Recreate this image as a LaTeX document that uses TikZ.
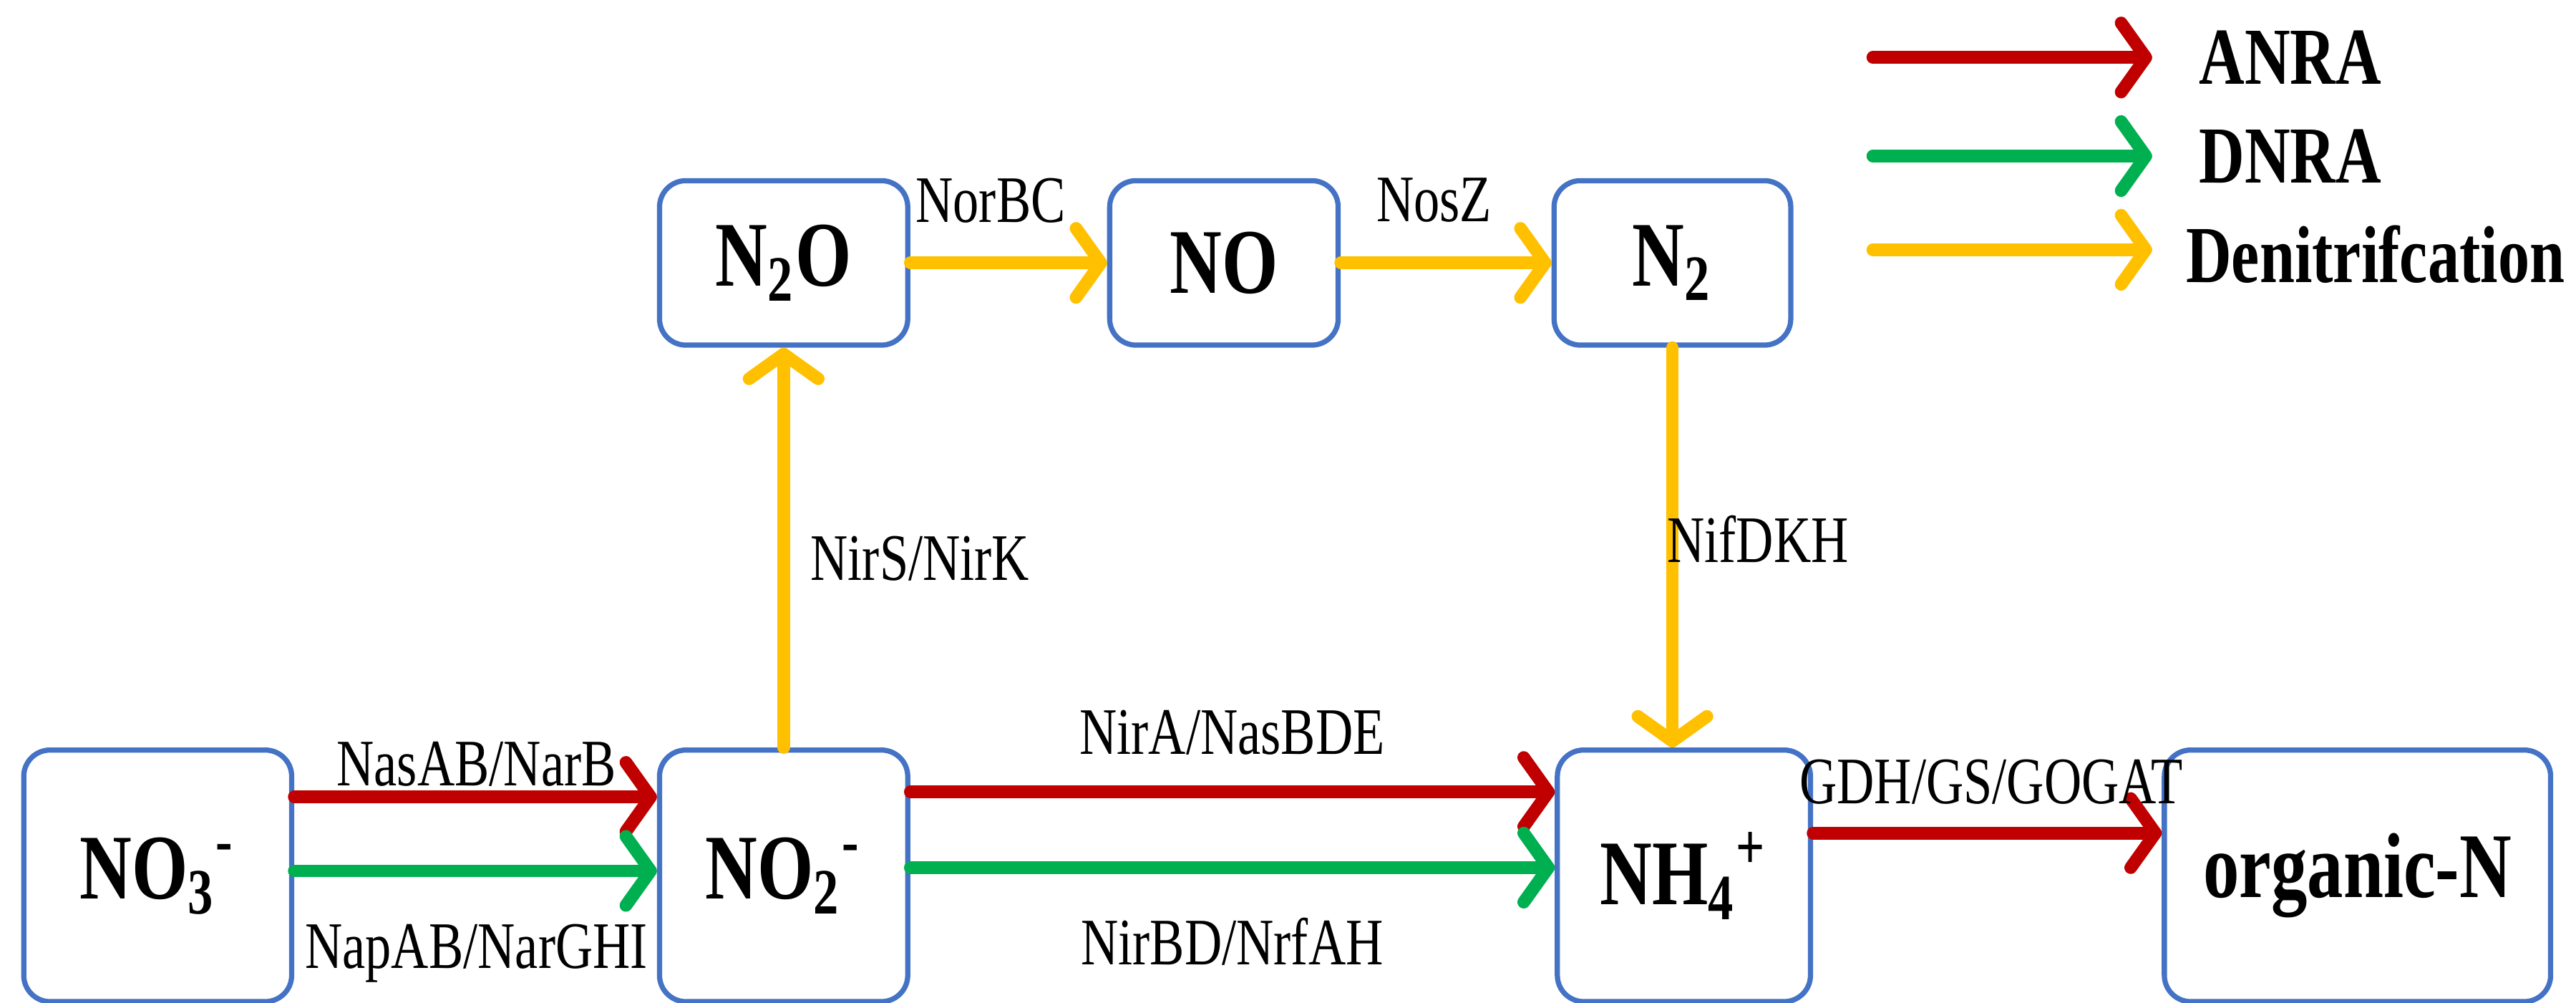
\documentclass[tikz,border=0pt]{standalone}
\usepackage{fontspec}
\setmainfont{Liberation Serif}[FakeStretch=0.78]
\usetikzlibrary{arrows.meta}
\definecolor{anra}{HTML}{C00000}
\definecolor{dnra}{HTML}{00B050}
\definecolor{deni}{HTML}{FFC000}
\definecolor{bx}{HTML}{4472C4}
\begin{document}
\begin{tikzpicture}[x=0.01cm,y=-0.01cm,
  box/.style={draw=bx,line width=0.9pt,rounded corners=0.16cm,fill=white,minimum height=1.53cm,font=\bfseries\fontsize{16}{18}\selectfont,inner sep=0pt},
  sbox/.style={box,minimum height=1.0cm},
  flow/.style={line width=2.2pt,line cap=round,-{Straight Barb[length=0.15cm,width=0.42cm,line cap=round,line join=round]}},
  ar/.style={flow,draw=anra},
  dn/.style={flow,draw=dnra},
  de/.style={flow,draw=deni},
  lab/.style={font=\fontsize{11.5}{13}\selectfont,inner sep=0pt},
  leg/.style={font=\bfseries\fontsize{14}{16}\selectfont,anchor=west,inner sep=0pt}]
\useasboundingbox (0,0) rectangle (1568,610);
\node[box,minimum width=1.63cm] (no3) at (96,533) {NO\textsubscript{3}\textsuperscript{-}};
\node[box,minimum width=1.51cm] (no2) at (477,533) {NO\textsubscript{2}\textsuperscript{-}};
\node[box,minimum width=1.54cm] (nh4) at (1025,533) {NH\textsubscript{4}\textsuperscript{+}};
\node[box,minimum width=2.35cm] (org) at (1435,533) {organic-N};
\node[sbox,minimum width=1.51cm] (n2o) at (477,160) {N\textsubscript{2}O};
\node[sbox,minimum width=1.39cm] (no) at (745,160) {NO};
\node[sbox,minimum width=1.44cm] (n2) at (1018,160) {N\textsubscript{2}};
% flows
\draw[ar] (no3.east|-0,485) -- (no2.west|-0,485);
\draw[dn] (no3.east|-0,530) -- (no2.west|-0,530);
\draw[ar] (no2.east|-0,482) -- (nh4.west|-0,482);
\draw[dn] (no2.east|-0,528) -- (nh4.west|-0,528);
\draw[ar] (nh4.east|-0,507) -- (org.west|-0,507);
\draw[de] (no2.north) -- (n2o.south);
\draw[de] (n2o.east) -- (no.west);
\draw[de] (no.east) -- (n2.west);
\draw[de] (n2.south) -- (n2.south|-nh4.north);
% labels
\node[lab] (l1) at (290,465) {NasAB/NarB};
\node[lab] (l2) at (290,580) {NapAB/NarGHI};
\node[lab] (l3) at (750,446) {NirA/NasBDE};
\node[lab] (l4) at (750,573) {NirBD/NrfAH};
\node[lab] (l5) at (1212,476) {GDH/GS/GOGAT};
\node[lab] (l6) at (560,340) {NirS/NirK};
\node[lab] (l7) at (1070,328) {NifDKH};
\node[lab] (l8) at (603,122) {NorBC};
\node[lab] (l9) at (873,122) {NosZ};
% legend
\coordinate (a1) at (1140,35); \coordinate (b1) at (1310,35);
\coordinate (a2) at (1140,95); \coordinate (b2) at (1310,95);
\coordinate (a3) at (1140,152); \coordinate (b3) at (1310,152);
\draw[ar] (a1) -- (b1);
\draw[dn] (a2) -- (b2);
\draw[de] (a3) -- (b3);
\node[leg] (t1) at (1338,35) {ANRA};
\node[leg] (t2) at (1338,95) {DNRA};
\node[leg] (t3) at (1330,155) {Denitrifcation};
\end{tikzpicture}
\end{document}
